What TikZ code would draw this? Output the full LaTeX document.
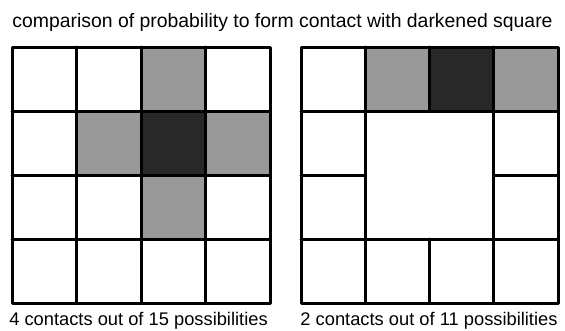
\documentclass[tikz,border=0pt]{standalone}
\usepackage{fontspec}
\setmainfont{Liberation Sans}
\definecolor{lightc}{HTML}{999999}
\definecolor{darkc}{HTML}{282828}
\begin{document}
\begin{tikzpicture}[x=1pt,y=-1pt,
  gridline/.style={line width=3pt, line cap=round, line join=round, draw=black},
  titletext/.style={anchor=base, inner sep=0pt, font=\fontsize{19.4}{23}\selectfont},
  labeltext/.style={anchor=base, inner sep=0pt, font=\fontsize{18.3}{22}\selectfont}]
\useasboundingbox[fill=white] (0,0) rectangle (565,330);
% left grid fills
\fill[lightc] (141,47) rectangle (205.5,111);
\fill[lightc] (76.5,111) rectangle (141,175);
\fill[darkc] (141,111) rectangle (205.5,175);
\fill[lightc] (205.5,111) rectangle (270,175);
\fill[lightc] (141,175) rectangle (205.5,239);
% left grid lines
\draw[gridline] (12,47) rectangle (270,303);
\foreach \x in {76.5,141,205.5} \draw[gridline] (\x,47) -- (\x,303);
\foreach \y in {111,175,239} \draw[gridline] (12,\y) -- (270,\y);
% right grid fills
\fill[lightc] (365.25,47) rectangle (429.5,111);
\fill[darkc] (429.5,47) rectangle (493.75,111);
\fill[lightc] (493.75,47) rectangle (558,111);
% right grid lines
\draw[gridline] (301,47) rectangle (558,303);
\draw[gridline] (365.25,47) -- (365.25,303);
\draw[gridline] (493.75,47) -- (493.75,303);
\draw[gridline] (429.5,47) -- (429.5,111);
\draw[gridline] (429.5,239) -- (429.5,303);
\draw[gridline] (301,111) -- (558,111);
\draw[gridline] (301,239) -- (558,239);
\draw[gridline] (301,175) -- (365.25,175);
\draw[gridline] (493.75,175) -- (558,175);
% texts
\node[titletext] (title) at (282.5,27) {comparison of probability to form contact with darkened square};
\node[labeltext] (leftlabel) at (138.5,325.7) {4 contacts out of 15 possibilities};
\node[labeltext] (rightlabel) at (429,325.7) {2 contacts out of 11 possibilities};
\end{tikzpicture}
\end{document}
